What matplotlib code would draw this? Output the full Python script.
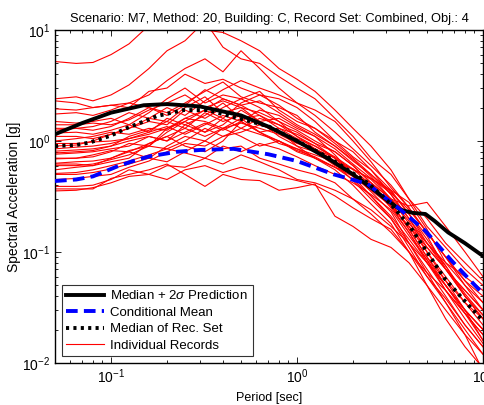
import numpy as np
import matplotlib
matplotlib.use('Agg')
import matplotlib.pyplot as plt
from matplotlib.ticker import LogLocator, LogFormatterSciNotation, NullFormatter

plt.rcParams['font.family'] = ['Liberation Sans', 'DejaVu Sans']
plt.rcParams['mathtext.fontset'] = 'custom'
plt.rcParams['mathtext.rm'] = 'Liberation Sans'
plt.rcParams['mathtext.it'] = 'Liberation Sans:italic'

title = 'Scenario: M7, Method: 20, Building: C, Record Set: Combined, Obj.: 4'

# median + 2 sigma prediction
pred_T = [0.05, 0.07, 0.1, 0.15, 0.2, 0.3, 0.5, 0.7, 1.0, 1.5, 2.0, 2.5,
          3.0, 3.6, 4.2, 4.9, 5.5, 6.5, 8.0, 10.0]
pred_sa = [1.15, 1.45, 1.8, 2.1, 2.15, 2.05, 1.7, 1.35, 1.0, 0.68, 0.5, 0.38,
           0.3, 0.24, 0.225, 0.22, 0.19, 0.15, 0.12, 0.092]

# conditional mean
cm_T = [0.05, 0.065, 0.08, 0.108, 0.135, 0.163, 0.227, 0.3, 0.456, 0.7, 1.0,
        1.58, 2.4, 3.5, 4.9, 6.8, 10.0]
cm_sa = [0.436, 0.45, 0.48, 0.59, 0.67, 0.73, 0.8, 0.83, 0.85, 0.76, 0.66,
         0.5, 0.41, 0.25, 0.155, 0.083, 0.042]

# median of record set
med_T = [0.05, 0.065, 0.077, 0.1, 0.122, 0.15, 0.177, 0.245, 0.33, 0.48, 0.7,
         1.0, 1.5, 2.4, 3.2, 4.1, 5.0, 6.2, 8.0, 10.0]
med_sa = [0.90, 0.92, 0.97, 1.12, 1.31, 1.5, 1.68, 1.9, 1.9, 1.61, 1.36,
          1.0, 0.7, 0.42, 0.27, 0.165, 0.1, 0.058, 0.036, 0.024]

# individual records
rec_T = [0.05, 0.065, 0.08, 0.1, 0.125, 0.16, 0.2, 0.25, 0.32, 0.4, 0.5, 0.63,
         0.8, 1.0, 1.25, 1.6, 2.0, 2.5, 3.2, 4.0, 5.0, 6.3, 8.0, 10.0]
rec01 = [5.2, 5.0, 5.1, 6.0, 7.5, 11, 12, 11, 10, 9.5, 8, 6.5, 4.5, 3.6, 2.8, 1.9, 1.3, 0.9, 0.55, 0.3, 0.17, 0.11, 0.07, 0.05]
rec02 = [2.4, 2.5, 2.3, 2.6, 3.2, 4.5, 6.5, 8, 12, 7, 5.5, 5, 3.8, 3.0, 2.4, 1.6, 1.1, 0.7, 0.5, 0.3, 0.2, 0.12, 0.08, 0.055]
rec03 = [2.3, 2.2, 2.0, 2.1, 2.2, 2.6, 3.5, 4.5, 5.5, 4.2, 6.5, 4.5, 3.0, 2.2, 1.9, 1.5, 1.0, 0.65, 0.38, 0.25, 0.15, 0.09, 0.055, 0.04]
rec04 = [1.95, 1.9, 2.0, 2.1, 2.0, 2.8, 3.0, 4.0, 3.3, 3.6, 3.0, 2.6, 2.4, 2.0, 1.5, 1.0, 0.72, 0.55, 0.33, 0.2, 0.11, 0.07, 0.045, 0.03]
rec05 = [1.75, 1.8, 1.7, 1.9, 2.2, 2.0, 1.8, 2.2, 2.8, 3.4, 2.5, 2.2, 2.0, 1.7, 1.2, 0.9, 0.68, 0.48, 0.3, 0.18, 0.12, 0.075, 0.04, 0.027]
rec06 = [1.5, 1.45, 1.5, 1.6, 1.4, 1.8, 2.4, 3.0, 2.2, 2.6, 2.4, 2.8, 1.9, 1.5, 1.3, 1.0, 0.8, 0.55, 0.36, 0.28, 0.16, 0.08, 0.05, 0.035]
rec07 = [1.3, 1.3, 1.35, 1.5, 1.8, 1.6, 1.5, 2.0, 2.5, 1.8, 2.0, 1.5, 1.6, 1.3, 1.1, 0.75, 0.5, 0.38, 0.28, 0.16, 0.09, 0.055, 0.035, 0.022]
rec08 = [1.18, 1.2, 1.15, 1.25, 1.4, 1.2, 1.6, 1.4, 1.7, 2.2, 1.6, 1.7, 1.3, 1.15, 0.95, 0.8, 0.6, 0.42, 0.3, 0.22, 0.14, 0.07, 0.04, 0.025]
rec09 = [0.9, 0.92, 1.0, 1.15, 1.3, 1.5, 1.4, 1.9, 1.6, 2.0, 2.4, 2.0, 1.5, 1.1, 0.9, 0.7, 0.5, 0.35, 0.23, 0.12, 0.07, 0.04, 0.022, 0.014]
rec10 = [0.81, 0.83, 0.85, 0.9, 1.1, 1.25, 1.5, 1.3, 1.8, 1.5, 1.7, 1.4, 1.2, 1.0, 0.85, 0.66, 0.48, 0.32, 0.2, 0.11, 0.06, 0.035, 0.02, 0.012]
rec11 = [0.76, 0.78, 0.8, 0.85, 0.9, 1.1, 1.0, 1.4, 1.2, 1.6, 1.3, 1.6, 1.4, 1.2, 0.95, 0.7, 0.5, 0.4, 0.25, 0.15, 0.08, 0.05, 0.03, 0.02]
rec12 = [0.69, 0.7, 0.72, 0.8, 0.95, 0.9, 1.3, 1.5, 1.2, 1.4, 1.9, 1.5, 1.1, 0.9, 0.8, 0.6, 0.52, 0.38, 0.26, 0.17, 0.1, 0.06, 0.035, 0.025]
rec13 = [0.63, 0.65, 0.66, 0.7, 0.82, 0.9, 0.85, 1.0, 1.3, 1.1, 1.2, 1.4, 1.25, 0.9, 0.7, 0.58, 0.45, 0.32, 0.21, 0.13, 0.08, 0.045, 0.028, 0.018]
rec14 = [0.62, 0.62, 0.6, 0.65, 0.7, 0.95, 1.1, 0.9, 0.8, 1.0, 1.5, 1.2, 0.95, 0.85, 0.75, 0.65, 0.56, 0.45, 0.3, 0.19, 0.1, 0.055, 0.03, 0.016]
rec15 = [0.51, 0.52, 0.55, 0.6, 0.66, 0.75, 0.85, 0.78, 0.7, 0.9, 0.8, 0.95, 0.85, 0.72, 0.6, 0.5, 0.42, 0.33, 0.24, 0.14, 0.085, 0.05, 0.03, 0.02]
rec16 = [0.5, 0.5, 0.52, 0.56, 0.62, 0.7, 0.65, 0.8, 1.0, 0.85, 0.9, 0.7, 0.62, 0.55, 0.5, 0.42, 0.3, 0.22, 0.15, 0.1, 0.065, 0.045, 0.028, 0.018]
rec17 = [0.39, 0.39, 0.4, 0.45, 0.55, 0.5, 0.6, 0.58, 0.7, 0.62, 0.75, 0.65, 0.55, 0.45, 0.42, 0.36, 0.3, 0.24, 0.17, 0.12, 0.08, 0.05, 0.03, 0.02]
rec18 = [0.37, 0.37, 0.37, 0.46, 0.5, 0.55, 0.62, 0.5, 0.39, 0.5, 0.45, 0.44, 0.36, 0.38, 0.41, 0.21, 0.17, 0.13, 0.11, 0.08, 0.05, 0.03, 0.018, 0.012]
rec19 = [0.355, 0.36, 0.38, 0.42, 0.48, 0.5, 0.45, 0.55, 0.6, 0.52, 0.58, 0.52, 0.48, 0.44, 0.4, 0.32, 0.25, 0.2, 0.16, 0.1, 0.06, 0.038, 0.022, 0.014]
rec20 = [0.55, 0.58, 0.6, 0.7, 0.8, 0.7, 0.9, 1.1, 1.0, 1.3, 1.1, 0.9, 1.0, 0.85, 0.7, 0.58, 0.5, 0.42, 0.3, 0.26, 0.28, 0.17, 0.1, 0.06]
rec21 = [1.0, 1.05, 1.1, 1.2, 1.15, 1.3, 1.25, 1.6, 1.5, 1.3, 1.45, 1.3, 1.15, 0.95, 0.85, 0.7, 0.55, 0.46, 0.36, 0.22, 0.12, 0.08, 0.06, 0.045]
rec22 = [0.85, 0.88, 0.9, 0.95, 1.05, 1.2, 1.35, 1.15, 1.4, 1.7, 1.5, 1.2, 1.0, 0.8, 0.7, 0.55, 0.4, 0.27, 0.18, 0.1, 0.05, 0.025, 0.014, 0.009]
rec23 = [1.4, 1.4, 1.45, 1.4, 1.55, 1.9, 2.2, 2.6, 2.0, 2.3, 2.0, 1.8, 1.5, 1.25, 1.0, 0.8, 0.6, 0.42, 0.26, 0.15, 0.085, 0.045, 0.025, 0.015]
rec24 = [0.95, 0.95, 0.98, 1.0, 1.05, 1.15, 1.3, 1.6, 1.9, 2.4, 2.1, 1.7, 1.4, 1.1, 0.85, 0.62, 0.44, 0.3, 0.2, 0.12, 0.065, 0.035, 0.018, 0.0085]
rec25 = [0.7, 0.7, 0.75, 0.82, 0.8, 0.95, 1.1, 1.3, 1.1, 1.3, 1.6, 1.2, 1.3, 1.05, 0.9, 0.72, 0.56, 0.4, 0.28, 0.16, 0.09, 0.05, 0.028, 0.016]
rec26 = [0.45, 0.46, 0.48, 0.5, 0.58, 0.66, 0.8, 0.95, 0.9, 1.1, 1.3, 1.15, 1.0, 0.82, 0.72, 0.58, 0.48, 0.36, 0.26, 0.17, 0.11, 0.07, 0.045, 0.03]
rec27 = [1.1, 1.1, 1.05, 1.15, 1.3, 1.6, 2.0, 1.7, 2.3, 2.9, 3.5, 3.0, 2.6, 2.2, 1.7, 1.2, 0.85, 0.6, 0.4, 0.25, 0.15, 0.09, 0.05, 0.03]
rec28 = [0.6, 0.6, 0.62, 0.68, 0.75, 0.9, 1.2, 1.5, 1.9, 1.6, 2.2, 2.6, 2.1, 1.6, 1.3, 0.95, 0.7, 0.5, 0.33, 0.2, 0.12, 0.07, 0.04, 0.025]
rec29 = [0.78, 0.8, 0.82, 0.9, 1.0, 1.1, 1.0, 1.2, 1.45, 1.25, 1.5, 1.9, 1.7, 1.35, 1.1, 0.85, 0.62, 0.46, 0.34, 0.24, 0.15, 0.09, 0.055, 0.035]
rec30 = [1.25, 1.3, 1.25, 1.35, 1.6, 2.0, 1.7, 2.1, 2.9, 2.4, 2.1, 2.3, 1.8, 1.4, 1.15, 0.9, 0.66, 0.5, 0.35, 0.22, 0.13, 0.075, 0.042, 0.027]
records = [rec01, rec02, rec03, rec04, rec05, rec06, rec07, rec08, rec09,
           rec10, rec11, rec12, rec13, rec14, rec15, rec16, rec17, rec18,
           rec19, rec20, rec21, rec22, rec23, rec24, rec25, rec26, rec27,
           rec28, rec29, rec30]

fig = plt.figure(figsize=(4.85, 4.05), dpi=100)
ax = fig.add_axes([55 / 485, 42 / 405, 428 / 485, 333 / 405])

for i, rec in enumerate(records):
    ax.plot(rec_T, rec, color='red', lw=0.8,
            label='Individual Records' if i == 0 else None, zorder=2)
ax.plot(pred_T, pred_sa, color='black', lw=2.8,
        label=r'Median + 2$\sigma$ Prediction', zorder=4)
ax.plot(cm_T, cm_sa, color='blue', lw=2.8, ls=(0, (3, 1.6)),
        label='Conditional Mean', zorder=4)
ax.plot(med_T, med_sa, color='black', lw=2.8, ls=(0, (0.8, 1.1)),
        label='Median of Rec. Set', zorder=5)

ax.set_xscale('log')
ax.set_yscale('log')
ax.set_xlim(0.05, 10)
ax.set_ylim(0.01, 10)
ax.xaxis.set_major_locator(LogLocator(base=10))
ax.yaxis.set_major_locator(LogLocator(base=10))
ax.xaxis.set_major_formatter(LogFormatterSciNotation())
ax.yaxis.set_major_formatter(LogFormatterSciNotation())
ax.xaxis.set_minor_locator(LogLocator(base=10, subs=np.arange(2, 10)))
ax.yaxis.set_minor_locator(LogLocator(base=10, subs=np.arange(2, 10)))
ax.xaxis.set_minor_formatter(NullFormatter())
ax.yaxis.set_minor_formatter(NullFormatter())
ax.tick_params(which='both', direction='in', top=True, right=True,
               labelsize=10, width=0.6)
ax.tick_params(which='major', length=4)
ax.tick_params(which='minor', length=2)
for sp in ax.spines.values():
    sp.set_linewidth(1.0)

ax.set_xlabel('Period [sec]', fontsize=9)
ax.set_ylabel('Spectral Acceleration [g]', fontsize=10, labelpad=1)
ax.set_title(title, fontsize=9.3, pad=6)

handles, labels = ax.get_legend_handles_labels()
order = [1, 2, 3, 0]
leg = ax.legend([handles[i] for i in order], [labels[i] for i in order],
                loc='lower left', fontsize=9.5, frameon=True, fancybox=False,
                handlelength=2.9, borderpad=0.35, labelspacing=0.32,
                handletextpad=0.45, borderaxespad=0.5)
leg.get_frame().set_edgecolor('black')
leg.get_frame().set_linewidth(0.8)

fig.savefig('out.png', dpi=100)
